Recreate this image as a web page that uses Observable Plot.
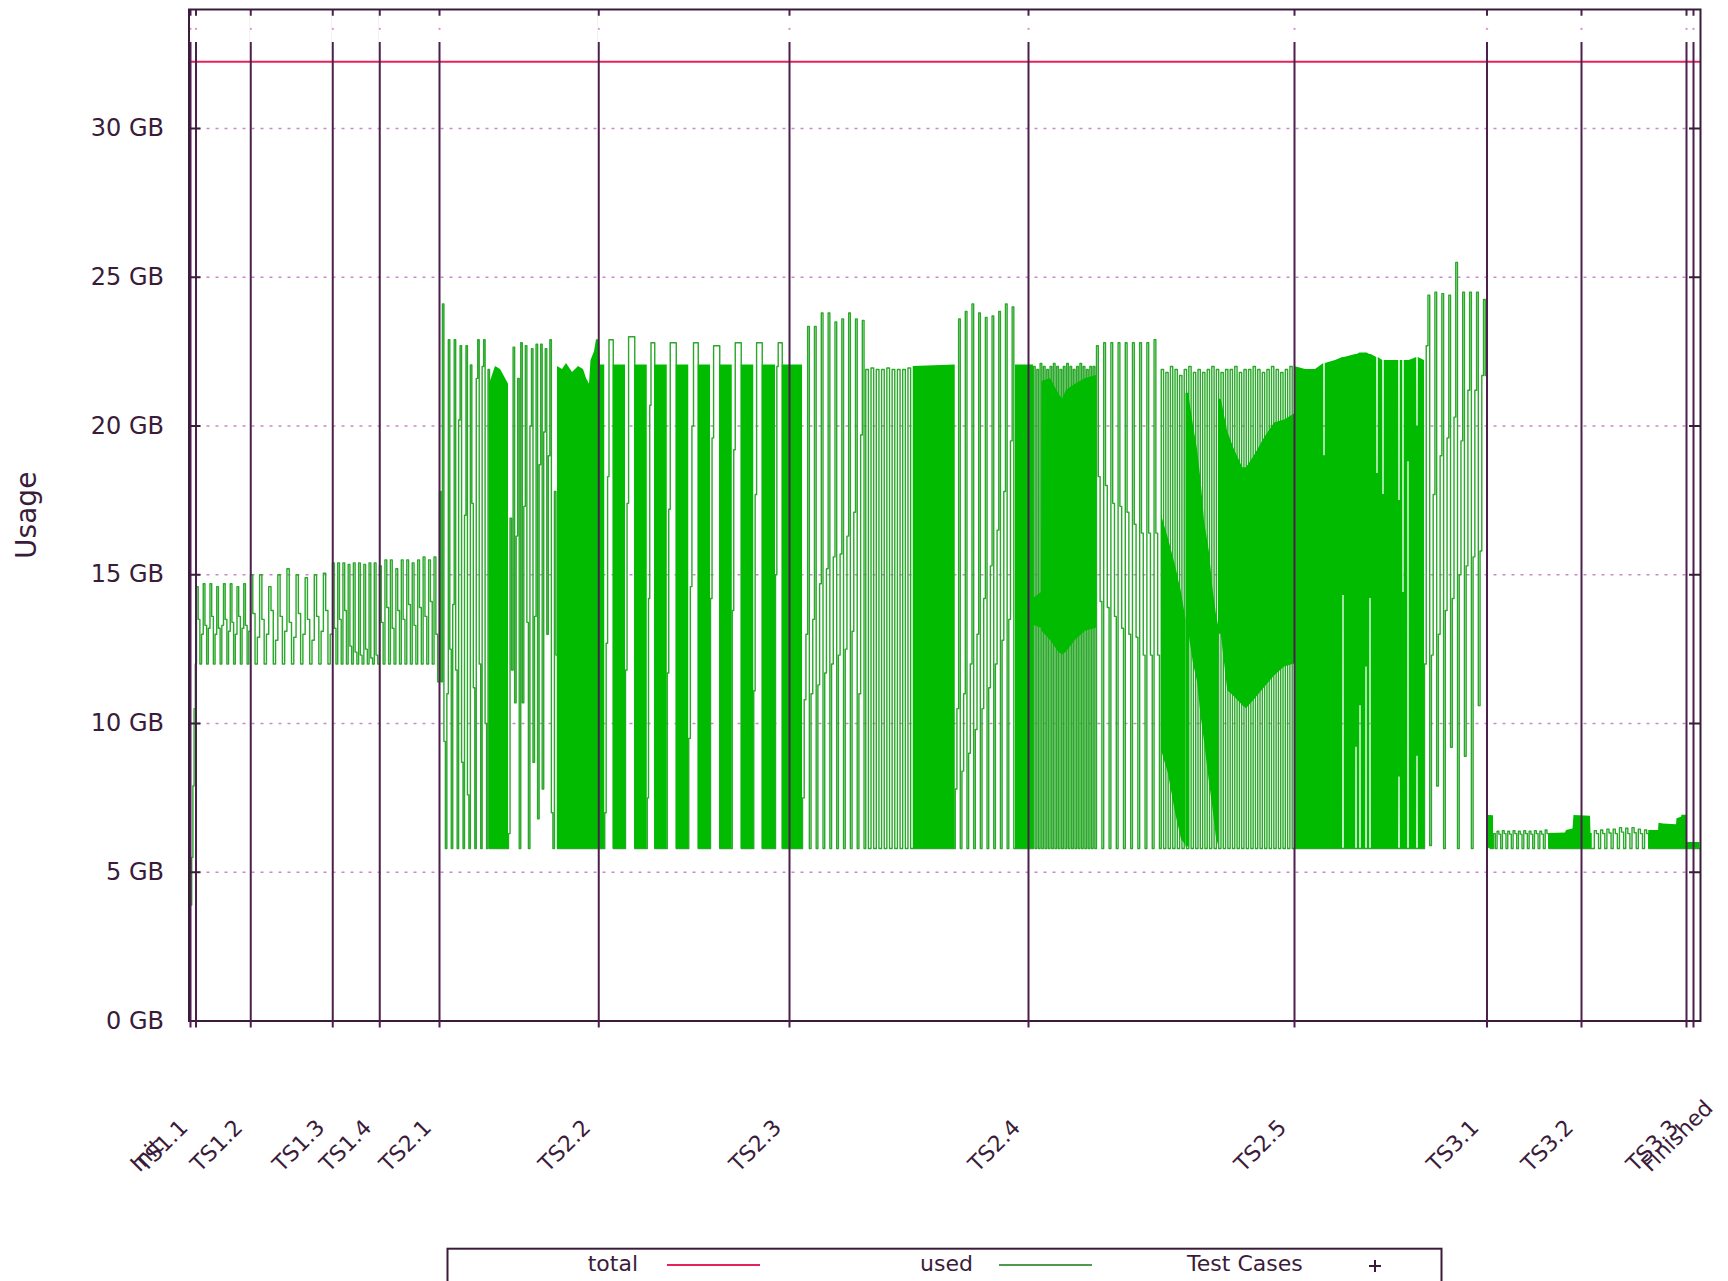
<!DOCTYPE html>
<html>
<head>
<meta charset="utf-8">
<script src="https://cdn.jsdelivr.net/npm/d3@7"></script>
<script src="https://cdn.jsdelivr.net/npm/@observablehq/plot@0.6"></script>
<style>
  html, body { margin: 0; padding: 0; background: #fff; }
  body { width: 1728px; height: 1281px; overflow: hidden; position: relative; font-family: "DejaVu Sans", sans-serif; }
  #chart { position: absolute; left: 0; top: 0; }
  #key { position: absolute; left: 0; top: 1240px; }
</style>
</head>
<body>
<div id="chart"></div>
<svg id="key" width="1728" height="41"></svg>
<script>
// ---------------------------------------------------------------
// Memory usage during the test run (time in minutes from start)
// ---------------------------------------------------------------
const caseNames = ["Init", "TS1.1", "TS1.2", "TS1.3", "TS1.4", "TS2.1", "TS2.2", "TS2.3",
                   "TS2.4", "TS2.5", "TS3.1", "TS3.2", "TS3.3", "Finished"];
const caseTimes = [0.6, 2.8, 24.7, 57.5, 76.3, 100.2, 163.9, 240.2,
                   335.8, 442.2, 519.2, 557.0, 599.0, 601.8];
const caseMarkGB = 33.35;      // level of the "Test Cases" markers
const totalGB = 32.24;         // installed memory
const yTicks = [0, 5, 10, 15, 20, 25, 30];
const gridTicks = [5, 10, 15, 20, 25, 30];
const timeDomain = [0, 604.6];
const usageDomain = [0, 34];

// "used" samples: [from, to, [GB ...]] — samples are evenly spaced inside each stretch
const usedTS1 = [
  [0.6, 3.0, [3.9, 5.5, 7.9, 10.5, 12.0]],
  [3.0, 24.6, [14.6,13.5,12.0,13.0, 14.7,13.3,12.0,13.2, 14.7,13.6,12.0,13.0, 14.6,13.2,12.0,13.3,
               14.7,13.5,12.0,13.1, 14.7,13.4,12.0,13.0, 14.6,13.6,12.0,13.2, 14.7,13.3,12.0,13.1]],
  [24.6, 57.4, [15.0,13.7,12.0,12.9, 15.0,13.5,12.0,13.0, 14.6,13.8,12.0,12.8, 15.0,13.6,12.0,13.1,
                15.2,13.4,12.0,12.9, 15.0,13.7,12.0,13.0, 14.9,13.5,12.0,12.8, 15.0,13.6,12.0,13.1,
                15.05,13.8,12.0,13.0]],
  [57.4, 76.2, [15.4,13.2,12.0, 15.4,13.5,12.0, 15.4,13.8,12.0, 15.35,12.6,12.0, 15.4,12.4,12.0,
                15.4,12.3,12.0, 15.35,12.5,12.0, 15.4,12.2,12.0, 15.4,12.3,12.0]],
  [76.2, 100.2, [15.3,13.4,12.0, 15.5,13.9,12.0, 15.5,13.2,12.0, 15.2,13.8,12.0, 15.5,13.5,12.0,
                 15.5,14.0,12.0, 15.4,13.3,12.0, 15.5,13.9,12.0, 15.6,13.6,12.0, 15.5,14.1,12.0,
                 15.6,13.0,11.4]]
];

const usedTS21 = [
  [100.2, 120.2, [17.8, 11.4, 24.1, 9.4, 5.8, 11.0, 22.9, 12.5, 5.8, 14.0, 22.9, 11.8, 5.8, 20.2,
                  22.7, 8.7, 5.8, 17.0, 22.7, 7.6, 5.8, 22.05, 17.4, 11.2, 5.8, 21.6, 22.9, 12.0,
                  5.8, 22.0, 22.9, 10.0, 5.8, 21.9]],
  [120.2, 127.8, [5.8]],
  [127.8, 147.4, [6.3, 16.9, 11.8, 22.65, 10.7, 16.3, 21.6, 5.8, 22.8, 10.7, 17.3, 22.7, 13.4, 5.8,
                  20.0, 22.6, 8.7, 13.6, 22.75, 6.8, 18.7, 22.75, 7.8, 19.8, 22.6, 13.0, 19.0,
                  22.9, 7.0, 5.8, 17.8, 12.3]],
  [147.4, 166.3, [5.8]]
];

const usedTS22 = [
  [166.3, 169.7, [7.0, 12.7, 18.3, 22.9, 22.9, 22.9]], [169.7, 174.6, [5.8]],
  [174.6, 178.3, [11.8, 17.4, 23.0, 23.0, 23.0, 23.0]], [178.3, 183.3, [5.8]],
  [183.3, 186.3, [7.5, 14.2, 20.7, 22.8, 22.8, 22.8]], [186.3, 191.3, [5.8]],
  [191.3, 194.9, [11.7, 17.2, 22.8, 22.8, 22.8, 22.8]], [194.9, 199.9, [5.8]],
  [199.9, 203.7, [9.5, 14.6, 20.0, 22.8, 22.8, 22.8]], [203.7, 208.6, [5.8]],
  [208.6, 212.3, [14.2, 19.6, 22.7, 22.7, 22.7, 22.7]], [212.3, 217.3, [5.8]],
  [217.3, 220.9, [13.8, 19.2, 22.8, 22.8, 22.8, 22.8]], [220.9, 225.9, [5.8]],
  [225.9, 229.3, [11.1, 17.7, 22.8, 22.8, 22.8, 22.8]], [229.3, 234.6, [5.8]],
  [234.6, 237.3, [15.0, 22.0, 22.8, 22.8, 22.8]], [237.3, 245.4, [5.8]]
];

const usedTS23 = [
  [245.4, 270.7, [7.5, 10.8, 13.0, 23.35, 5.8, 11.0, 13.5, 23.35, 5.8, 11.3, 14.7, 23.8, 5.8, 11.7,
                  15.2, 23.8, 5.8, 12.0, 15.6, 23.5, 5.8, 12.3, 15.7, 23.6, 5.8, 12.5, 16.3, 23.8,
                  5.8, 13.1, 17.1, 23.6, 5.8, 11.0, 19.7, 23.55, 5.8]],
  [270.7, 289.7, [21.9, 5.8, 21.95, 5.8, 21.9, 5.8, 21.9, 5.8, 21.95, 5.8, 21.9, 5.8, 21.9, 5.8,
                  21.9, 5.8, 21.95, 5.8]],
  [289.7, 306.5, [5.8]],
  [306.5, 330.6, [7.8, 10.5, 23.6, 5.8, 8.4, 11.0, 23.85, 5.8, 9.0, 12.0, 24.1, 5.8, 9.8, 13.0, 23.8,
                  5.8, 10.5, 14.2, 23.65, 5.8, 11.2, 15.3, 23.7, 5.8, 12.0, 16.5, 23.85, 5.8, 12.8,
                  17.8, 24.1, 5.8, 13.5, 19.5, 24.0, 5.8]],
  [330.6, 337.8, [5.8]]
];

const usedTS24 = [
  [337.8, 363.0, [22.0, 5.8, 21.9, 5.8, 22.1, 5.8, 22.0, 5.8, 21.9, 5.8, 22.0, 5.8, 22.1, 5.8,
                  22.0, 5.8, 21.9, 5.8, 22.0, 5.8, 22.1, 5.8, 22.0, 5.8, 21.9, 5.8, 22.0, 5.8,
                  22.1, 5.8, 22.0, 5.8, 21.9, 5.8, 22.0, 5.8, 22.0, 5.8]],
  [363.0, 388.9, [22.7, 18.3, 14.1, 5.8, 22.8, 18.0, 13.9, 5.8, 22.8, 17.4, 13.6, 5.8, 22.8, 17.3,
                  13.2, 5.8, 22.8, 17.1, 13.0, 5.8, 22.8, 16.7, 12.9, 5.8, 22.8, 16.4, 12.3, 5.8,
                  22.8, 16.4, 12.3, 5.8, 22.9, 16.4, 12.3, 5.8]],
  [388.9, 442.2, [21.9, 5.8, 21.8, 5.8, 22.0, 5.8, 21.9, 5.8, 21.7, 5.8, 21.9, 5.8, 22.0, 5.8,
                  21.8, 5.8, 21.9, 5.8, 21.8, 5.8, 21.9, 5.8, 22.0, 5.8, 21.9, 5.8, 21.8, 5.8,
                  21.9, 5.8, 21.9, 5.8, 22.0, 5.8, 21.8, 5.8, 21.9, 5.8, 21.9, 5.8, 22.0, 5.8,
                  21.9, 5.8, 21.8, 5.8, 21.9, 5.8, 22.0, 5.8, 21.9, 5.8, 21.8, 5.8, 21.9, 5.8,
                  22.0, 5.8]]
];

const usedTS25 = [
  [442.2, 494.2, [5.8]],
  [494.2, 519.2, [12.0, 22.7, 24.4, 5.9, 12.3, 17.7, 24.5, 7.9, 13.0, 19.0, 24.45, 5.8, 13.8, 19.6,
                  24.4, 9.2, 14.2, 20.3, 25.5, 5.8, 15.0, 19.5, 24.5, 8.9, 15.3, 21.2, 24.5, 5.8,
                  15.6, 21.2, 24.5, 10.6, 15.8, 21.7, 24.25, 21.7]]
];

const usedTS3 = [
  [519.2, 521.8, [6.9, 5.8]],
  [521.8, 543.9, [6.3, 5.8, 6.38, 6.28, 5.8, 6.4, 6.3, 5.8, 6.38, 6.28, 5.8, 6.4, 6.3, 5.8, 6.38,
                  6.28, 5.8, 6.4, 6.3, 5.8, 6.38, 6.28, 5.8, 6.4, 6.3, 5.8, 6.38, 6.28, 5.8, 6.42, 6.3]],
  [543.9, 561.3, [5.8]],
  [561.3, 583.9, [5.8, 6.4, 6.3, 5.8, 6.42, 6.3, 5.8, 6.45, 6.32, 5.8, 6.45, 6.3, 5.8, 6.5, 6.35,
                  5.8, 6.48, 6.3, 5.8, 6.5, 6.33, 5.8, 6.45, 6.3, 5.8, 6.42, 6.3]],
  [583.9, 604.4, [5.8]]
];

// Stretches sampled too densely to separate: [stretch, minute, low GB, high GB]
const denseTS2 = [
  ["b1",120.2,5.8,21.4],["b1",122.6,5.8,22.0],["b1",124.6,5.8,21.9],["b1",126.6,5.8,21.6],["b1",127.8,5.8,21.4],
  ["b2",147.4,5.8,22.0],["b2",149.4,5.8,21.9],["b2",151.0,5.8,22.1],["b2",153.4,5.8,21.8],["b2",155.8,5.8,22.0],
  ["b2",157.8,5.8,21.9],["b2",159.0,5.8,21.6],["b2",160.2,5.8,21.4],["b2",160.8,5.8,22.2],["b2",162.2,5.8,22.5],
  ["b2",163.0,5.8,22.9],["b2",164.2,5.8,22.9],["b2",164.6,5.8,22.05],["b2",166.3,5.8,22.05],
  ["b4",169.7,5.8,22.05],["b4",174.6,5.8,22.05],
  ["b5",178.3,5.8,22.05],["b5",183.3,5.8,22.05],
  ["b6",186.3,5.8,22.05],["b6",191.3,5.8,22.05],
  ["b7",194.9,5.8,22.05],["b7",199.9,5.8,22.05],
  ["b8",203.7,5.8,22.05],["b8",208.6,5.8,22.05],
  ["b9",212.3,5.8,22.05],["b9",217.3,5.8,22.05],
  ["b10",220.9,5.8,22.05],["b10",225.9,5.8,22.05],
  ["b11",229.3,5.8,22.05],["b11",234.6,5.8,22.05],
  ["b12",237.3,5.8,22.05],["b12",245.4,5.8,22.05],
  ["b13",289.7,5.8,22.0],["b13",306.5,5.8,22.05],
  ["b14",330.6,5.8,22.05],["b14",337.8,5.8,22.05]
];

const denseTS24 = [
  ["j1",337.8,13.3,14.2],["j1",341.0,13.2,14.4],["j1",341.2,13.1,21.5],["j1",344.6,12.8,21.6],
  ["j1",347.8,12.4,21.1],["j1",349.4,12.3,20.9],["j1",351.0,12.4,21.2],["j1",354.6,12.8,21.4],
  ["j1",358.6,13.1,21.6],["j1",363.0,13.2,21.7],
  ["j3a",389.0,9.1,17.0],["j3a",391.8,8.3,16.2],["j3a",394.6,7.0,15.3],["j3a",397.0,6.1,14.4],["j3a",398.8,5.9,13.5],
  ["j3b",398.8,5.85,21.1],["j3b",400.2,5.85,21.1],
  ["j3c",400.2,12.9,20.9],["j3c",401.8,12.0,20.0],["j3c",403.4,11.4,19.2],["j3c",404.9,10.2,18.1],
  ["j3c",406.2,9.4,16.8],["j3c",408.2,8.0,15.75],["j3c",409.5,7.2,14.6],["j3c",410.9,6.2,13.7],["j3c",411.8,5.9,13.3],
  ["j3d",411.8,13.0,20.9],["j3d",412.9,13.0,20.9],["j3d",415.5,11.1,19.8],["j3d",418.2,10.9,19.2],
  ["j3d",421.5,10.6,18.6],["j3d",423.0,10.5,18.6],["j3d",426.2,10.8,19.0],["j3d",430.2,11.2,19.6],
  ["j3d",434.2,11.6,20.1],["j3d",438.2,11.9,20.2],["j3d",442.2,12.0,20.4]
];

const denseTS25 = [
  ["k1",442.2,5.8,22.0],["k1",446.6,5.8,21.9],["k1",450.6,5.8,21.9],
  ["k1",453.9,5.8,22.1],["k1",453.95,5.8,19.0],["k1",454.45,5.8,19.0],["k1",454.5,5.8,22.1],
  ["k1",458.6,5.8,22.2],
  ["k1",461.5,5.8,22.3],["k1",461.55,14.3,22.3],["k1",462.05,14.3,22.3],["k1",462.1,5.8,22.3],
  ["k1",466.7,5.8,22.4],["k1",466.75,9.2,22.4],["k1",467.25,9.2,22.4],["k1",467.3,5.8,22.4],
  ["k1",468.3,5.8,22.45],["k1",468.35,10.6,22.45],["k1",468.85,10.6,22.45],["k1",468.9,5.8,22.45],
  ["k1",470.7,5.8,22.45],["k1",470.75,11.9,22.45],["k1",471.25,11.9,22.45],["k1",471.3,5.8,22.45],
  ["k1",472.3,5.8,22.4],["k1",472.35,14.2,22.4],["k1",472.85,14.2,22.4],["k1",472.9,5.8,22.4],
  ["k1",475.1,5.8,22.3],["k1",475.15,5.8,18.4],["k1",475.65,5.8,18.4],["k1",475.7,5.8,22.3],
  ["k1",477.5,5.8,22.2],["k1",477.55,5.8,17.7],["k1",478.05,5.8,17.7],["k1",478.1,5.8,22.2],
  ["k1",483.9,5.8,22.2],["k1",483.95,8.2,17.5],["k1",484.45,8.2,17.5],["k1",484.5,5.8,22.2],
  ["k1",485.5,5.8,22.2],["k1",485.55,5.8,14.4],["k1",486.05,5.8,14.4],["k1",486.1,5.8,22.2],
  ["k1",487.5,5.8,22.2],["k1",487.55,18.8,22.2],["k1",488.05,18.8,22.2],["k1",488.1,5.8,22.2],
  ["k1",491.1,5.8,22.3],["k1",491.15,8.9,20.0],["k1",491.65,8.9,20.0],["k1",491.7,5.8,22.3],
  ["k1",494.2,5.8,22.2]
];

const denseTS3 = [
  ["l1",519.2,5.8,6.9],["l1",521.8,5.8,6.9],
  ["l3",543.9,5.8,6.3],["l3",550.6,5.8,6.32],["l3",551.0,5.8,6.4],["l3",553.6,5.8,6.45],
  ["l3",554.0,5.8,6.91],["l3",560.6,5.8,6.88],["l3",560.8,5.8,6.3],["l3",561.3,5.8,6.3],
  ["l6",583.9,5.8,6.4],["l6",587.8,5.8,6.4],["l6",588.0,5.8,6.65],["l6",589.8,5.8,6.62],
  ["l6",595.0,5.8,6.6],["l6",595.2,5.8,6.8],["l6",597.0,5.8,6.85],["l6",597.2,5.8,6.92],["l6",599.2,5.8,6.92],
  ["l7",599.3,5.8,6.0],["l7",604.4,5.8,6.0]
];

const keyLabels = ["total", "used", "Test Cases"];

// ---------------------------------------------------------------
// Tables for the marks
// ---------------------------------------------------------------
const usedPoints = [];
for (const [from, to, gb] of [...usedTS1, ...usedTS21, ...usedTS22, ...usedTS23,
                              ...usedTS24, ...usedTS25, ...usedTS3]) {
  const step = (to - from) / gb.length;
  gb.forEach((v, i) => usedPoints.push({t: from + i * step, gb: v}));
}
const lastRun = usedTS3[usedTS3.length - 1];
usedPoints.push({t: lastRun[1], gb: lastRun[2][lastRun[2].length - 1]});

const denseKnots = [...denseTS2, ...denseTS24, ...denseTS25, ...denseTS3]
  .map(([band, t, lo, hi]) => ({band, t, lo, hi}));

// tick labels: the closing label sits a little further along its slant
const nLabels = caseNames.length;
const stepLabels = caseNames.slice(0, nLabels - 1);
const stepLabelTimes = caseTimes.slice(0, nLabels - 1);
const endLabel = caseNames.slice(nLabels - 1);
const endLabelTime = caseTimes.slice(nLabels - 1);

// ---------------------------------------------------------------
// Colours
// ---------------------------------------------------------------
const INK = "#3a1c3a";
const CASE = "#4c1f4c";
const GRID = "#cc88cc";
const TOTAL = "#e5225b";
const USED = "#2aa82a";
const DENSE = "#00bb00";

const labelStyle = {frameAnchor: "bottom", rotate: -45, textAnchor: "start", lineAnchor: "bottom",
                    dy: 152, fontSize: 22, fill: INK};

const chart = Plot.plot({
  width: 1728,
  height: 1246,
  marginLeft: 188.5,
  marginRight: 28,
  marginTop: 9,
  marginBottom: 225.5,
  style: {fontFamily: "DejaVu Sans, sans-serif", fontSize: "22px", color: INK, background: "white"},
  x: {domain: timeDomain, axis: null},
  y: {domain: usageDomain, axis: null},
  marks: [
    Plot.ruleY(gridTicks, {stroke: GRID, strokeWidth: 1.5, strokeDasharray: "3,6"}),
    Plot.line(usedPoints, {x: "t", y: "gb", curve: "step-after", stroke: USED, strokeWidth: 1.4}),
    Plot.areaY(denseKnots, {x: "t", y1: "lo", y2: "hi", z: "band", fill: DENSE, curve: "linear"}),
    Plot.ruleY([totalGB], {stroke: TOTAL, strokeWidth: 2}),
    Plot.ruleX(caseTimes, {stroke: CASE, strokeWidth: 2}),
    Plot.dot(caseTimes, {x: d => d, y: () => caseMarkGB, symbol: "plus", r: 8.5, stroke: "white", strokeWidth: 3}),
    Plot.dot(caseTimes, {x: d => d, y: () => caseMarkGB, r: 1.2, fill: "#d59ad5"}),
    Plot.frame({stroke: INK, strokeWidth: 2}),
    Plot.axisY({ticks: yTicks, anchor: "left", label: null, tickSize: 0, tickPadding: 25,
                tickFormat: d => `${d} GB`, fontSize: 24, color: INK}),
    Plot.axisY({ticks: yTicks, anchor: "left", label: null, tickSize: 12, dx: 12, tickFormat: () => "",
                stroke: INK, strokeWidth: 2}),
    Plot.axisY({ticks: yTicks, anchor: "right", label: null, tickSize: 12, dx: -12, tickFormat: () => "",
                stroke: INK, strokeWidth: 2}),
    Plot.axisX({ticks: caseTimes, label: null, tickSize: 7, tickFormat: () => "", stroke: CASE, strokeWidth: 2}),
    Plot.text(stepLabels, {x: stepLabelTimes, dx: -51, ...labelStyle}),
    Plot.text(endLabel, {x: endLabelTime, dx: -43, ...labelStyle}),
    Plot.text(["Usage"], {frameAnchor: "left", rotate: -90, textAnchor: "middle", lineAnchor: "middle",
                          dx: -162, fontSize: 28, fill: INK})
  ]
});
document.getElementById("chart").appendChild(chart);

// ---------------------------------------------------------------
// Key, below the plot
// ---------------------------------------------------------------
const key = d3.select("#key");
key.append("rect")
  .attr("x", 447.5).attr("y", 8.7).attr("width", 994).attr("height", 60)
  .attr("fill", "none").attr("stroke", INK).attr("stroke-width", 2);
const keyText = [638, 973, 1302.7];
key.selectAll("text.lbl").data(keyLabels).join("text")
  .attr("class", "lbl")
  .attr("x", (d, i) => keyText[i]).attr("y", 31)
  .attr("text-anchor", "end")
  .attr("font-family", "DejaVu Sans, sans-serif").attr("font-size", 22)
  .attr("fill", INK)
  .text(d => d);
key.append("line").attr("x1", 667).attr("x2", 760).attr("y1", 25).attr("y2", 25)
  .attr("stroke", TOTAL).attr("stroke-width", 2);
key.append("line").attr("x1", 999).attr("x2", 1092).attr("y1", 25).attr("y2", 25)
  .attr("stroke", "#4f9a4f").attr("stroke-width", 2);
key.append("path").attr("d", "M1369,26h12M1375,20v12")
  .attr("stroke", INK).attr("stroke-width", 2).attr("fill", "none");
</script>
</body>
</html>
